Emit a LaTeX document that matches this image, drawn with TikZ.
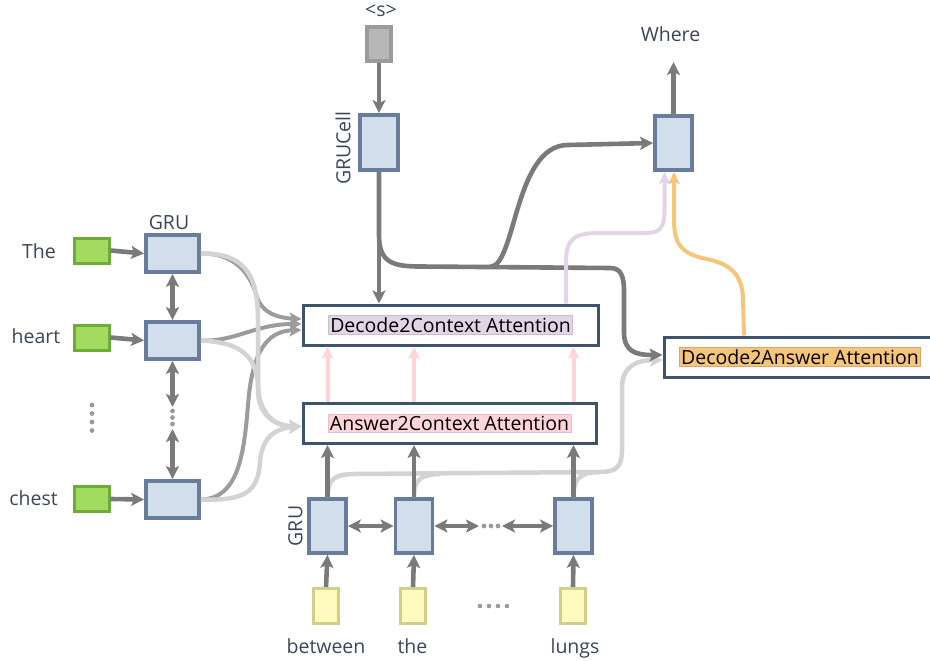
\documentclass[tikz,border=0pt]{standalone}
\usepackage{fontspec}
\setmainfont{Open Sans}
\usetikzlibrary{arrows.meta}
\definecolor{grufill}{HTML}{D3DEEC}
\definecolor{grubd}{HTML}{687D9C}
\definecolor{attbd}{HTML}{3E546E}
\definecolor{txt}{HTML}{3A4658}
\definecolor{arr}{HTML}{7A7A7A}
\definecolor{darkc}{HTML}{9C9C9C}
\definecolor{lightc}{HTML}{D3D3D3}
\definecolor{dotc}{HTML}{9A9A9A}
\definecolor{greenf}{HTML}{A3DA60}
\definecolor{greenb}{HTML}{6CAE35}
\definecolor{yelf}{HTML}{FFFABF}
\definecolor{yelb}{HTML}{D2CF88}
\definecolor{sf}{HTML}{B7B7B7}
\definecolor{sb}{HTML}{9B9B9B}
\definecolor{purp}{HTML}{E1D5E7}
\definecolor{purpb}{HTML}{C9BBD0}
\definecolor{pinkc}{HTML}{FFD5DB}
\definecolor{pinkb}{HTML}{E8BBC2}
\definecolor{orng}{HTML}{F4C57A}
\definecolor{orngb}{HTML}{D9AA60}
\newcommand\hlbox[3]{{\setlength{\fboxsep}{1.5pt}\setlength{\fboxrule}{0.5pt}\fcolorbox{#2}{#1}{#3}}}
\begin{document}
\begin{tikzpicture}[x=1pt,y=-1pt, font=\fontsize{19.5}{22}\selectfont,
 gru/.style={draw=grubd, fill=grufill, line width=3.8pt, inner sep=0pt},
 lgru/.style={gru, minimum width=53pt, minimum height=37pt},
 vgru/.style={gru, minimum width=37pt, minimum height=54pt},
 word/.style={text=txt, inner sep=0pt, anchor=base},
 greenbox/.style={draw=greenb, fill=greenf, line width=3pt, minimum width=35pt, minimum height=25pt, inner sep=0pt},
 ybox/.style={draw=yelb, fill=yelf, line width=3pt, minimum width=25pt, minimum height=35pt, inner sep=0pt},
 sbox/.style={draw=sb, fill=sf, line width=3.8pt, minimum width=24pt, minimum height=34pt, inner sep=0pt},
 att/.style={draw=attbd, fill=white, line width=3pt, minimum height=40pt, inner sep=0pt, text=black},
 tip/.style={-{Stealth[length=13pt,width=13pt,inset=3pt]}},
 arrow/.style={draw=arr, line width=4.6pt, tip},
 darr/.style={draw=arr, line width=4.6pt, {Stealth[length=13pt,width=13pt,inset=3pt]}-{Stealth[length=13pt,width=13pt,inset=3pt]}},
 dcurve/.style={draw=darkc, line width=4pt, -{Stealth[length=12pt,width=12pt,inset=2.5pt]}},
 lcurve/.style={draw=lightc, line width=4.5pt, -{Stealth[length=12pt,width=13pt,inset=2.5pt]}},
 lline/.style={draw=lightc, line width=4.5pt},
 pinkarrow/.style={draw=pinkc, line width=4pt, -{Stealth[length=12pt,width=11pt,inset=2pt]}},
 pcurve/.style={draw=purp, line width=4pt, -{Stealth[length=12pt,width=11pt,inset=2pt]}},
 ocurve/.style={draw=orng, line width=4pt, -{Stealth[length=12pt,width=11pt,inset=2pt]}},
]
\useasboundingbox (0,0) rectangle (930,661);

% ---- top decoder part
\node[word] (stok) at (381,16.5) {<s>};
\node[sbox] (s) at (379,44) {};
\node[gru, minimum width=38pt, minimum height=55pt] (gc) at (379,142.5) {};
\node[text=txt, inner sep=0pt, rotate=90] (gclab) at (343,148) {GRUCell};
\node[vgru] (out) at (673.5,143) {};
\node[word] (where) at (670.5,42) {Where};
\coordinate (wtip) at (673.5,62);

% ---- attention boxes
\node[att, minimum width=295pt] (d2c) at (450.5,325) {\hlbox{purp}{purpb}{Decode2Context Attention}};
\node[att, minimum width=293pt] (a2c) at (449.5,423.5) {\hlbox{pinkc}{pinkb}{Answer2Context Attention}};
\node[att, minimum width=272pt] (d2a) at (800,357) {\hlbox{orng}{orngb}{Decode2Answer Attention}};

% ---- left encoder (answer)
\node[word] (wThe) at (39,258) {The};
\node[word] (wheart) at (36,343) {heart};
\node[word] (wchest) at (33.5,505) {chest};
\node[greenbox] (g1) at (91.5,250.5) {};
\node[greenbox] (g2) at (91.5,337.5) {};
\node[greenbox] (g3) at (91.5,499) {};
\node[lgru] (l1) at (172.5,253.5) {};
\node[lgru] (l2) at (172.5,340.5) {};
\node[lgru] (l3) at (172.5,499.5) {};
\node[word] (lgrulab) at (169,229) {GRU};
\coordinate (ld1) at (172.5,407);
\coordinate (ld2) at (172.5,429);
\foreach \yy in {405,413.5,422,430.5} \fill[dotc] (92,\yy) circle (2.4pt);
\foreach \yy in {411,417.5,424} \fill[dotc] (172.5,\yy) circle (2.4pt);

% ---- bottom encoder (context)
\node[vgru] (b1) at (327.5,526) {};
\node[vgru] (b2) at (414,526) {};
\node[vgru] (b3) at (573.5,526) {};
\node[text=txt, inner sep=0pt, rotate=90] (bgrulab) at (295.5,526) {GRU};
\node[ybox] (y1) at (326,606) {};
\node[ybox] (y2) at (413,606) {};
\node[ybox] (y3) at (573,606) {};
\node[word] (wbetween) at (326,653) {between};
\node[word] (wthe) at (412.5,653) {the};
\node[word] (wlungs) at (575,653) {lungs};
\coordinate (bd1) at (479,526);
\coordinate (bd2) at (502,526);
\foreach \xx in {484,491,498} \fill[dotc] (\xx,526) circle (2.4pt);
\foreach \xx in {480,489,498,507} \fill[dotc] (\xx,606) circle (2.3pt);

% ---- left curves into attention
\draw[dcurve] (l1.east) .. controls (240,253) and (252,280) .. (257,297) .. controls (262,313) and (278,318) .. ([yshift=6pt]d2c.west);
\draw[dcurve] (l2.east) .. controls (235,342) and (255,324) .. ([yshift=1pt]d2c.west);
\draw[dcurve] (l3.east) .. controls (238,499) and (244,455) .. (248,405) .. controls (252,350) and (268,331) .. ([yshift=-5pt]d2c.west);
\draw[lcurve] (l1.east) .. controls (245,253) and (258,275) .. (258,320) -- (258,390) .. controls (258,415) and (275,426) .. ([yshift=-3pt]a2c.west);
\draw[lcurve] (l2.east) .. controls (235,342) and (256,352) .. (258,385) .. controls (259,415) and (275,426) .. ([yshift=-3pt]a2c.west);
\draw[lcurve] (l3.east) .. controls (245,501) and (258,492) .. (260,462) .. controls (262,435) and (278,428) .. ([yshift=-3pt]a2c.west);

% ---- bottom curves into Decode2Answer
\draw[lcurve] (b1.north) .. controls (328,480) and (333,474) .. (355,474) -- (600,472) .. controls (617,472) and (622,466) .. (622,450) -- (622,388) .. controls (622,364) and (640,360) .. ([yshift=-3pt]d2a.west);
\draw[lline] (b2.north) .. controls (414,482) and (418,474.5) .. (440,474);
\draw[lline] (b3.north) .. controls (573.5,482) and (577,472.5) .. (598,472);

% ---- straight arrows
\draw[arrow] (s.south) -- (gc.north);
\draw[arrow] (gc.south) -- (d2c.north -| gc);
\draw[arrow] (out.north) -- (wtip);
\foreach \g/\l in {g1/l1,g2/l2,g3/l3} \draw[arrow] (\g.east) -- (\l.west);
\draw[darr] (l1.south) -- (l2.north);
\draw[darr] (l2.south) -- (ld1);
\draw[darr] (ld2) -- (l3.north);
\foreach \b/\y in {b1/y1,b2/y2,b3/y3} {
  \draw[arrow] (\y.north) -- (\b.south);
  \draw[arrow] (\b.north) -- (a2c.south -| \b);
  \draw[pinkarrow] (a2c.north -| \b) -- (d2c.south -| \b);
}
\draw[darr] (b1.east) -- (b2.west);
\draw[darr] (b2.east) -- (bd1);
\draw[darr] (bd2) -- (b3.west);

% ---- decoder state paths
\coordinate (br) at (490,266.8);
\draw[arrow] (gc.south) -- (379,235) .. controls (379,262) and (392,266.5) .. (420,266.5) -- (610,268) .. controls (621,268) and (624,276) .. (624,292) -- (624,332) .. controls (624,352) and (636,355) .. ([yshift=2pt]d2a.west);
\draw[arrow] (br) .. controls (516,266.8) and (514,145) .. (568,145) -- (out.west);
\draw[pcurve] ([xshift=115.5pt]d2c.north) -- (566,262) .. controls (566,238) and (575,233) .. (600,233) -- (645,233) .. controls (660,233) and (664.5,228) .. (664.5,210) -- ([xshift=-9pt]out.south);
\draw[ocurve] ([xshift=-56pt]d2a.north) -- (743,300) .. controls (743,268) and (722,262) .. (702,258) .. controls (678,252) and (674,240) .. (674,218) -- ([xshift=0.5pt]out.south);
\end{tikzpicture}
\end{document}
